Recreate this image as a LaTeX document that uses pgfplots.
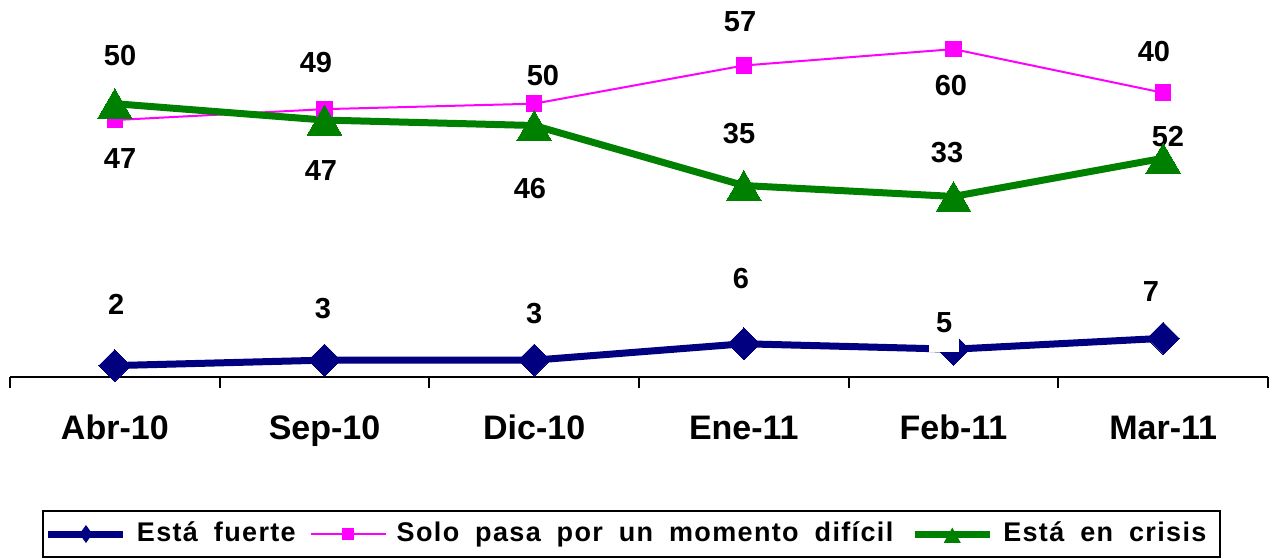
\documentclass[border=0pt]{standalone}
\usepackage{fontspec}
\setmainfont{Liberation Sans}
\newfontfamily\legfont[LetterSpace=5,WordSpace=1.8]{Liberation Sans}
\usepackage{pgfplots}
\pgfplotsset{compat=1.18}
\definecolor{navyc}{RGB}{0,0,128}
\definecolor{pinkc}{RGB}{255,0,255}
\definecolor{greenc}{RGB}{0,128,0}
\tikzset{lab/.style={font=\fontsize{14.5}{17}\selectfont\bfseries}}
\pgfplotsset{frame/.style={at={(5pt,90.75pt)}, anchor=south west,
  scale only axis, width=629pt, height=188.25pt,
  xmin=-0.5, xmax=5.5, ymin=0, ymax=69, clip=false}}
\begin{document}
\begin{tikzpicture}
\path[use as bounding box] (0,0) rectangle (638.5pt,279pt);
\begin{axis}[
  frame,
  axis x line*=bottom, axis y line=none,
  x axis line style={line width=1pt, black},
  xtick={0,...,5},
  xticklabels={Abr-10,Sep-10,Dic-10,Ene-11,Feb-11,Mar-11},
  major x tick style={draw=none},
  minor xtick={-0.5,0.5,...,5.5},
  minor tick length=5.5pt,
  tick align=outside,
  minor x tick style={line width=1pt, black},
  ytick=\empty,
  xticklabel style={font=\fontsize{17}{20}\selectfont\bfseries, anchor=base, yshift=-27.25pt},
  legend columns=3,
  legend style={at={(0.0254,-0.3546)}, anchor=north west, draw=black, line width=1pt,
    inner xsep=1pt, inner ysep=5pt,
    font=\legfont\fontsize{13.5}{16}\selectfont\bfseries,
    nodes={inner sep=0pt, text height=10pt, text depth=3pt},
    /tikz/every odd column/.append style={column sep=5pt},
    /tikz/column 2/.append style={column sep=7pt},
    /tikz/column 4/.append style={column sep=9pt}},
]
\addplot[navyc, line width=3.5pt, mark=square*, mark size=5.66pt,
  mark options={rotate=45, solid, line width=0pt},
  legend image code/.code={\draw[navyc, line width=3.5pt] (0pt,0pt) -- (37.5pt,0pt);
    \fill[navyc, draw=none, line width=0pt] (18.75pt,4.5pt) -- (22pt,0pt) -- (18.75pt,-4.5pt) -- (15.5pt,0pt) -- cycle;}]
  coordinates {(0,2)(1,3)(2,3)(3,6)(4,5)(5,7)};
\addlegendentry{Está fuerte}
\addplot[pinkc, line width=1pt, mark=square*, mark size=3.9pt,
  mark options={line width=0pt},
  legend image code/.code={\draw[pinkc, line width=1pt] (0pt,0pt) -- (37.5pt,0pt);
    \fill[pinkc, draw=none, line width=0pt] (15.75pt,-3pt) rectangle (21.75pt,3pt);}]
  coordinates {(0,47)(1,49)(2,50)(3,57)(4,60)(5,52)};
\addlegendentry{Solo pasa por un momento difícil}
\addplot[greenc, line width=3.5pt, mark=triangle*, mark size=10pt,
  mark options={yshift=-2.5pt, line width=0pt},
  legend image code/.code={\draw[greenc, line width=3.5pt] (0pt,0pt) -- (37.5pt,0pt);
    \fill[greenc, draw=none, line width=0pt] (18.75pt,3.2pt) -- (23pt,-4.4pt) -- (14.5pt,-4.4pt) -- cycle;}]
  coordinates {(0,50)(1,47)(2,46)(3,35)(4,33)(5,40)};
\addlegendentry{Está en crisis\hspace*{6pt}\mbox{}}
% pink / green labels
\node[lab] at (axis cs:0.025,58.9) {50};
\node[lab] at (axis cs:0.025,39.86) {47};
\node[lab] at (axis cs:0.959,57.6) {49};
\node[lab] at (axis cs:0.983,37.8) {47};
\node[lab] at (axis cs:2.042,55.25) {50};
\node[lab] at (axis cs:1.980,34.5) {46};
\node[lab] at (axis cs:2.982,64.96) {57};
\node[lab] at (axis cs:2.977,44.6) {35};
\node[lab] at (axis cs:3.988,53.4) {60};
\node[lab] at (axis cs:3.969,41.1) {33};
\node[lab] at (axis cs:4.956,59.5) {40};
\node[lab] at (axis cs:5.023,43.9) {52};
% blue labels
\node[lab] at (axis cs:0.006,13.3) {2};
\node[lab] at (axis cs:0.993,12.4) {3};
\node[lab] at (axis cs:2.0,11.6) {3};
\node[lab] at (axis cs:2.986,18.05) {6};
\node[lab] at (axis cs:4.942,15.5) {7};
\end{axis}
\begin{axis}[frame, hide axis]
\node[lab, fill=white, minimum width=14.5pt, minimum height=29pt] at (axis cs:3.955,9.8) {5};
\end{axis}
\end{tikzpicture}
\end{document}
